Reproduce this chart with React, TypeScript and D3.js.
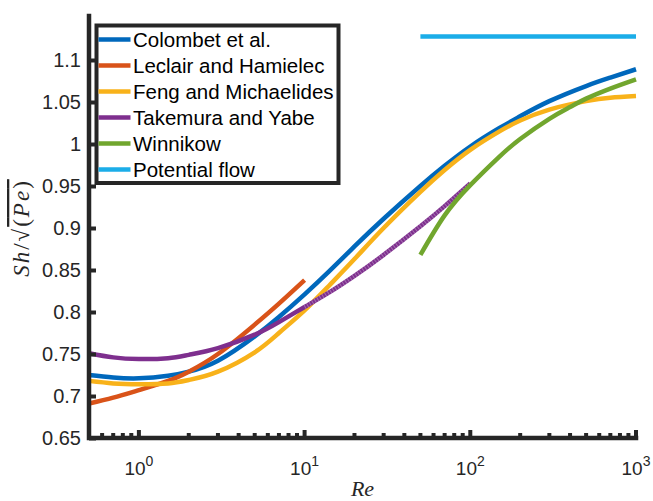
import * as d3 from "d3";
import React, { useRef, useEffect } from "react";

// Reynolds number grid (log x axis)
const reFull = [0.5, 0.7, 1, 1.5, 2, 3, 5, 7, 10, 14, 20, 30, 50, 70, 100, 150, 200, 300, 500, 700, 1000];
const colombet = [0.725, 0.722, 0.721, 0.724, 0.729, 0.742, 0.771, 0.794, 0.821, 0.848, 0.878, 0.911, 0.950, 0.974, 0.997, 1.019, 1.033, 1.051, 1.069, 1.079, 1.089];
const feng = [0.718, 0.715, 0.714, 0.715, 0.719, 0.729, 0.752, 0.775, 0.802, 0.831, 0.863, 0.900, 0.943, 0.969, 0.993, 1.015, 1.028, 1.041, 1.051, 1.055, 1.057];

const leclairRe = [0.5, 0.7, 1, 1.5, 2, 3, 5, 7, 10];
const leclair = [0.691, 0.698, 0.707, 0.718, 0.729, 0.750, 0.785, 0.810, 0.838];

const takemuraRe = [0.5, 0.7, 1, 1.5, 2, 3, 5, 7, 10, 14, 20, 30, 50, 70, 100];
const takemura = [0.751, 0.746, 0.744, 0.745, 0.749, 0.757, 0.773, 0.788, 0.806, 0.823, 0.843, 0.868, 0.902, 0.926, 0.953];

const winnikowRe = [50, 70, 100, 150, 200, 300, 400, 500, 700, 1000];
const winnikow = [0.868, 0.915, 0.951, 0.985, 1.006, 1.030, 1.044, 1.054, 1.066, 1.077];

const potentialRe = [50, 1000];
const potential = [1.128, 1.128];

const legendLabels = ["Colombet et al.", "Leclair and Hamielec", "Feng and Michaelides", "Takemura and Yabe", "Winnikow", "Potential flow"];
const colors = ["#0068BC", "#D95319", "#F8B21A", "#7E2F8E", "#71A62E", "#1BADE8"];

const yTicks = [0.65, 0.7, 0.75, 0.8, 0.85, 0.9, 0.95, 1, 1.05, 1.1];
const xMajor = [1, 10, 100, 1000];
const xExp = ["0", "1", "2", "3"];

const W = 653;
const H = 501;
const ink = "#262626";

export default function App() {
  const svgRef = useRef<SVGSVGElement>(null);

  useEffect(() => {
    const svg = d3.select(svgRef.current);
    svg.selectAll("*").remove();

    const x = d3.scaleLog().domain([0.5, 1000]).range([89, 636]);
    const y = d3.scaleLinear().domain([0.65, 1.15]).range([438, 18]);

    const line = d3.line<[number, number]>()
      .x((d) => x(d[0]))
      .y((d) => y(d[1]))
      .curve(d3.curveNatural);

    const zip = (a: number[], b: number[]) => a.map((v, i) => [v, b[i]] as [number, number]);
    const series = [
      zip(reFull, colombet),
      zip(leclairRe, leclair),
      zip(reFull, feng),
      zip(takemuraRe, takemura),
      zip(winnikowRe, winnikow),
      zip(potentialRe, potential),
    ];

    const plot = svg.append("g");
    series.forEach((s, i) => {
      plot.append("path")
        .attr("d", line(s))
        .attr("fill", "none")
        .attr("stroke", colors[i])
        .attr("stroke-width", 4.5);
      if (i === 3) {
        // grainy look on the upper part of the Takemura curve
        plot.append("path")
          .attr("d", line(s.filter((d) => d[0] >= 10)))
          .attr("fill", "none")
          .attr("stroke", "rgba(255,255,255,0.3)")
          .attr("stroke-width", 4.5)
          .attr("stroke-dasharray", "1 2");
      }
    });

    // axes, MATLAB style (ticks inside, no box)
    const yAxis = d3.axisLeft(y)
      .tickValues(yTicks)
      .tickSize(-7)
      .tickSizeOuter(0)
      .tickPadding(8)
      .tickFormat((d) => String(+(+d).toFixed(2)));
    const gy = svg.append("g").attr("transform", "translate(89,0)").call(yAxis);
    gy.select(".domain").remove();
    gy.selectAll(".tick line").attr("stroke", ink).attr("stroke-width", 4);
    gy.selectAll(".tick text")
      .attr("fill", ink)
      .style("font-family", "'Liberation Sans', Arial, sans-serif")
      .style("font-size", "20px");

    const minor: number[] = [];
    [0.1, 1, 10, 100].forEach((dec) => {
      for (let k = 2; k <= 9; k++) {
        const v = k * dec;
        if (v > 0.5 && v < 1000) minor.push(v);
      }
    });
    const gx = svg.append("g").attr("transform", "translate(0,438)");
    gx.selectAll(".minor")
      .data(minor)
      .enter()
      .append("line")
      .attr("x1", (d) => x(d))
      .attr("x2", (d) => x(d))
      .attr("y1", 0)
      .attr("y2", -5)
      .attr("stroke", ink)
      .attr("stroke-width", 4);
    gx.selectAll(".major")
      .data(xMajor)
      .enter()
      .append("line")
      .attr("x1", (d) => x(d))
      .attr("x2", (d) => x(d))
      .attr("y1", 0)
      .attr("y2", -8)
      .attr("stroke", ink)
      .attr("stroke-width", 4);

    const labels = gx.selectAll(".lbl")
      .data(xMajor)
      .enter()
      .append("text")
      .attr("x", (d) => x(d))
      .attr("y", 37)
      .attr("text-anchor", "middle")
      .attr("fill", ink)
      .style("font-family", "'Liberation Sans', Arial, sans-serif")
      .style("font-size", "19px");
    labels.append("tspan").text("10");
    labels.append("tspan")
      .attr("dy", -9)
      .style("font-size", "14px")
      .text((d, i) => xExp[i]);

    // axis lines
    svg.append("path")
      .attr("d", `M89,${y(1.15) - 2}V438H636`)
      .attr("fill", "none")
      .attr("stroke", ink)
      .attr("stroke-width", 4.5)
      .attr("stroke-linecap", "square");

    // axis titles
    svg.append("text")
      .attr("x", (x(0.5) + x(1000)) / 2)
      .attr("y", 496)
      .attr("text-anchor", "middle")
      .attr("fill", ink)
      .style("font-family", "'Liberation Serif', 'Times New Roman', serif")
      .style("font-style", "italic")
      .style("font-size", "22px")
      .text("Re");

    const yl = svg.append("text")
      .attr("transform", `translate(29,${(y(0.65) + y(1.15)) / 2}) rotate(-90)`)
      .attr("text-anchor", "middle")
      .attr("fill", ink)
      .style("font-family", "'Liberation Serif', 'Times New Roman', serif")
      .style("font-size", "23px")
      .style("letter-spacing", "2px");
    yl.append("tspan").style("font-style", "italic").text("Sh");
    yl.append("tspan").text("/√");
    yl.append("tspan").style("text-decoration", "overline").text("(");
    yl.append("tspan").style("text-decoration", "overline").style("font-style", "italic").text("Pe");
    yl.append("tspan").style("text-decoration", "overline").text(")");

    // legend
    const lg = svg.append("g");
    lg.append("rect")
      .attr("x", 96.5)
      .attr("y", 25.5)
      .attr("width", 242)
      .attr("height", 157.5)
      .attr("fill", "#fff")
      .attr("stroke", ink)
      .attr("stroke-width", 4);
    legendLabels.forEach((name, i) => {
      const ry = 39.5 + i * 26;
      lg.append("line")
        .attr("x1", 98.5)
        .attr("x2", 130.5)
        .attr("y1", ry)
        .attr("y2", ry)
        .attr("stroke", colors[i])
        .attr("stroke-width", 4.5);
      lg.append("text")
        .attr("x", 133)
        .attr("y", ry)
        .attr("dy", "0.36em")
        .attr("fill", "#000")
        .style("font-family", "'Liberation Sans', Arial, sans-serif")
        .style("font-size", "20.5px")
        .text(name);
    });
  }, []);

  return (
    <svg
      ref={svgRef}
      width={W}
      height={H}
      viewBox={`0 0 ${W} ${H}`}
      style={{ position: "absolute", left: 0, top: 0, background: "#fff" }}
    />
  );
}
